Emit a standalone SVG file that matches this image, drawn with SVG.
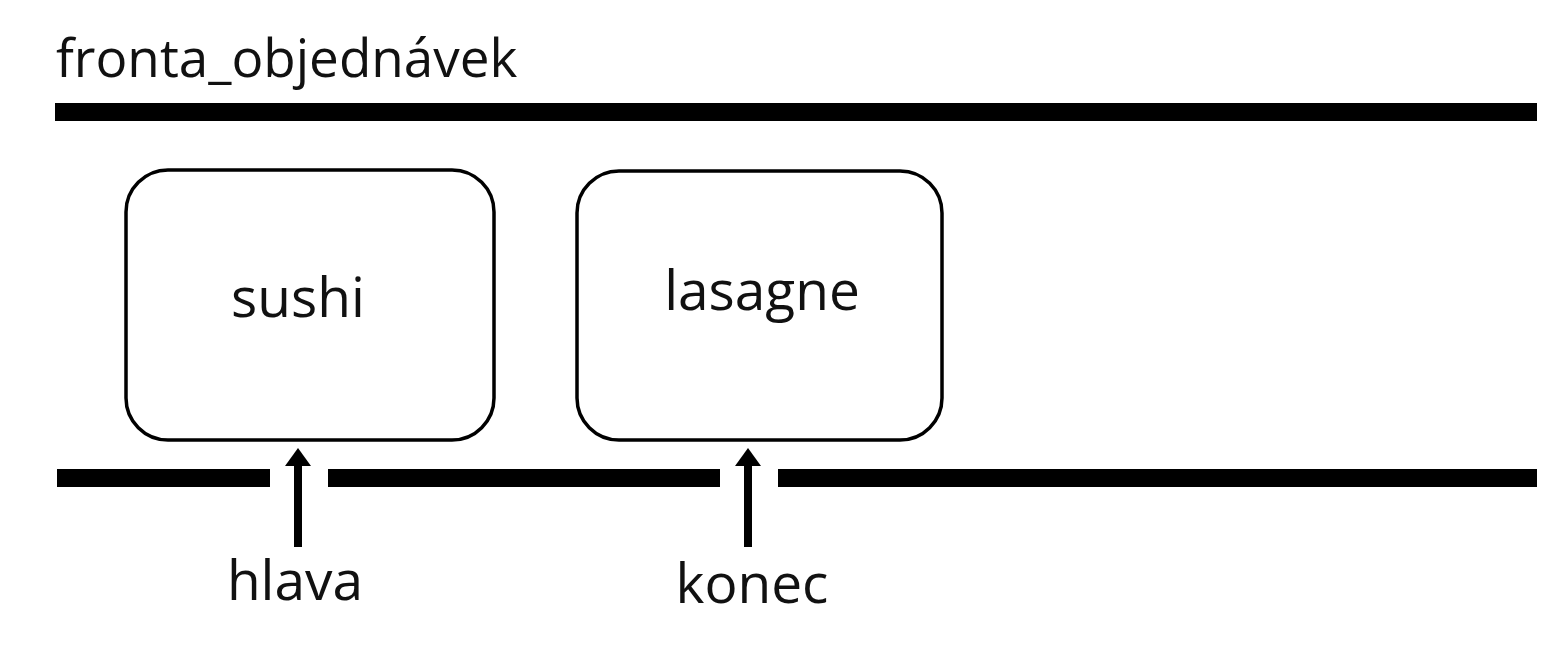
<svg xmlns="http://www.w3.org/2000/svg" width="1556" height="672" viewBox="0 0 1556 672">
<style>
text{font-family:"Open Sans","Noto Sans","Liberation Sans",sans-serif;fill:#111;font-size:55px}
#title text{font-size:53px}
.bar{fill:#000}
.box{fill:#fff;stroke:#000;stroke-width:3.5}
.shaft{stroke:#000;stroke-width:8;fill:none}
.head{fill:#000}
</style>
<rect width="1556" height="672" fill="#fff"/>
<g id="title"><text x="56" y="77">fronta_objednávek</text></g>
<g id="walls">
<rect class="bar" x="55" y="103" width="1482" height="18"/>
<rect class="bar" x="57" y="469" width="213" height="18"/>
<rect class="bar" x="328" y="469" width="392" height="18"/>
<rect class="bar" x="778" y="469" width="759" height="18"/>
</g>
<g id="node-sushi">
<rect class="box" x="126" y="170" width="368" height="270" rx="42"/>
<text x="298" y="317" text-anchor="middle">sushi</text>
</g>
<g id="node-lasagne">
<rect class="box" x="577" y="171" width="365" height="269" rx="42"/>
<text x="762" y="310" text-anchor="middle">lasagne</text>
</g>
<g id="connectors">
<line class="shaft" x1="298" y1="547" x2="298" y2="462"/>
<polygon class="head" points="298,448 285,466 311,466"/>
<line class="shaft" x1="748" y1="547" x2="748" y2="462"/>
<polygon class="head" points="748,448 735,466 761,466"/>
</g>
<g id="label-hlava"><text x="295" y="600" text-anchor="middle">hlava</text></g>
<g id="label-konec"><text x="752" y="603" text-anchor="middle">konec</text></g>
</svg>
